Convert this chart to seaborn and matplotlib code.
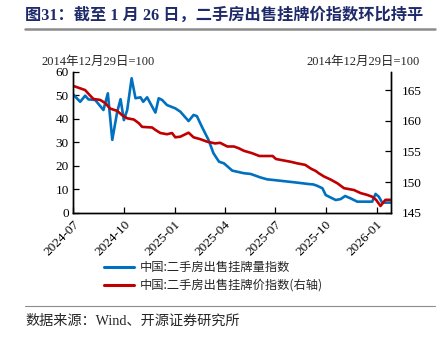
import numpy as np
import pandas as pd
import matplotlib
matplotlib.use("Agg")
import matplotlib.pyplot as plt
import matplotlib.dates as mdates
import seaborn as sns

# ---- data ----
vol_dates = ["2024-07-01", "2024-07-14", "2024-07-23", "2024-07-29", "2024-08-10", "2024-08-25",
             "2024-09-02", "2024-09-10", "2024-09-19", "2024-09-25", "2024-10-01", "2024-10-07",
             "2024-10-15", "2024-10-22", "2024-10-31", "2024-11-05", "2024-11-12", "2024-11-27",
             "2024-12-03", "2024-12-09", "2024-12-18", "2025-01-02", "2025-01-11", "2025-01-26",
             "2025-02-04", "2025-02-10", "2025-02-19", "2025-03-03", "2025-03-12", "2025-03-22",
             "2025-03-31", "2025-04-15", "2025-05-06", "2025-05-18", "2025-06-05", "2025-06-17",
             "2025-07-11", "2025-08-10", "2025-08-31", "2025-09-09", "2025-09-16", "2025-09-25",
             "2025-10-01", "2025-10-19", "2025-10-28", "2025-11-05", "2025-11-15", "2025-11-27",
             "2025-12-24", "2025-12-30", "2026-01-05", "2026-01-11", "2026-01-26"]
vol_values = [50.4, 47.2, 49.8, 48.2, 48.0, 43.7,
              50.8, 31.0, 43.0, 48.3, 39.4, 43.7,
              57.2, 48.7, 49.1, 47.2, 49.1, 42.6,
              48.7, 48.0, 45.8, 44.4, 43.0, 39.0,
              41.6, 41.1, 36.6, 31.0, 25.3, 21.7,
              21.0, 17.9, 16.8, 16.5, 15.0, 14.2,
              13.6, 12.8, 12.2, 12.0, 11.4, 10.4,
              7.5, 5.4, 5.8, 7.1, 6.1, 4.7,
              4.7, 8.0, 6.8, 4.3, 4.3]

price_dates = ["2024-07-01", "2024-07-23", "2024-07-31", "2024-08-07", "2024-08-19", "2024-08-28",
               "2024-09-06", "2024-09-19", "2024-09-28", "2024-10-07", "2024-10-19", "2024-10-28",
               "2024-11-03", "2024-11-21", "2024-11-27", "2024-12-06", "2024-12-18", "2024-12-27",
               "2025-01-02", "2025-01-11", "2025-01-26", "2025-02-04", "2025-02-16", "2025-02-28",
               "2025-03-15", "2025-03-24", "2025-04-06", "2025-04-18", "2025-04-27", "2025-05-06",
               "2025-05-21", "2025-06-03", "2025-06-27", "2025-07-03", "2025-07-18", "2025-07-30",
               "2025-08-10", "2025-08-25", "2025-09-04", "2025-09-13", "2025-09-19", "2025-09-28",
               "2025-10-10", "2025-10-22", "2025-11-03", "2025-11-21", "2025-12-03", "2025-12-15",
               "2025-12-24", "2025-12-31", "2026-01-08", "2026-01-17", "2026-01-26"]
price_values = [165.7, 165.0, 164.2, 163.55, 163.4, 162.9,
                162.0, 161.6, 160.9, 160.4, 160.2, 159.6,
                159.0, 158.9, 158.5, 158.0, 157.8, 158.0,
                157.3, 157.4, 158.05, 157.3, 157.0, 156.6,
                156.3, 156.4, 155.8, 155.8, 155.5, 155.1,
                154.7, 154.25, 154.25, 153.76, 153.5, 153.3,
                153.06, 152.8, 152.2, 151.8, 151.4, 150.9,
                150.4, 149.8, 149.0, 148.7, 148.2, 147.9,
                147.6, 147.1, 146.1, 147.1, 147.1]

left_ticks = [0, 10, 20, 30, 40, 50, 60]
right_ticks = [145, 150, 155, 160, 165]
x_ticks = ["2024-07", "2024-10", "2025-01", "2025-04", "2025-07", "2025-10", "2026-01"]

title = "图31：截至 1 月 26 日，二手房出售挂牌价指数环比持平"
unit_label = "2014年12月29日=100"
vol_label = "中国:二手房出售挂牌量指数"
price_label = "中国:二手房出售挂牌价指数(右轴)"
source = "数据来源：Wind、开源证券研究所"

# ---- style ----
sns.set_style("white")
plt.rcParams["font.family"] = ["Liberation Serif", "Noto Sans CJK SC", "DejaVu Sans"]
plt.rcParams["axes.unicode_minus"] = False

BLUE = "#0070C0"
RED = "#C00000"
CJK = ["Noto Sans CJK SC", "DejaVu Sans"]

df_v = pd.DataFrame({"date": pd.to_datetime(vol_dates), "value": vol_values})
df_p = pd.DataFrame({"date": pd.to_datetime(price_dates), "value": price_values})

fig = plt.figure(figsize=(4.47, 3.39), dpi=100)
ax = fig.add_axes([73 / 447, 1 - 212.7 / 339, (391 - 73) / 447, 141 / 339])
ax2 = ax.twinx()

sns.lineplot(data=df_v, x="date", y="value", ax=ax, color=BLUE, linewidth=1.9, legend=False)
sns.lineplot(data=df_p, x="date", y="value", ax=ax2, color=RED, linewidth=1.9, legend=False)

ax.set_xlim(pd.Timestamp("2024-07-01"), pd.Timestamp("2026-01-27"))
ax.set_ylim(0, 60)
ax2.set_ylim(145, 168)
ax.set_yticks(left_ticks)
ax2.set_yticks(right_ticks)
ax.set_xticks(pd.to_datetime([t + "-01" for t in x_ticks]))
ax.set_xticklabels(x_ticks, rotation=45, ha="right", rotation_mode="anchor")
ax.set_xlabel("")
ax.set_ylabel("")
ax2.set_ylabel("")

for a in (ax, ax2):
    a.spines["top"].set_visible(False)
    for s in ("left", "right", "bottom"):
        a.spines[s].set_color("black")
        a.spines[s].set_linewidth(1.0)
    a.tick_params(direction="in", length=4, width=0.9, colors="black", labelsize=9.5, pad=3)
ax.tick_params(axis="x", pad=4)
ax.tick_params(axis="y", left=True, right=False)
ax2.tick_params(axis="y", right=True, left=False, pad=8)
ax.tick_params(axis="x", bottom=True)

# unit labels
fig.text(98 / 447, 1 - 62 / 339, unit_label, ha="center", va="center", fontsize=9)
fig.text(363 / 447, 1 - 62 / 339, unit_label, ha="center", va="center", fontsize=9)

# title and rules
fig.text(25 / 447, 1 - 16 / 339, title, ha="left", va="center", fontsize=11.7,
         fontweight="bold", color="#1F2A6B",
         family=["Liberation Serif", "Noto Sans CJK SC", "DejaVu Sans"])
fig.add_artist(plt.Line2D([25 / 447, 435 / 447], [1 - 29 / 339, 1 - 29 / 339],
                          color="#8C8C8C", linewidth=1.8, transform=fig.transFigure))
fig.add_artist(plt.Line2D([25 / 447, 435 / 447], [1 - 306 / 339, 1 - 306 / 339],
                          color="#8C8C8C", linewidth=0.8, transform=fig.transFigure))
fig.text(25 / 447, 1 - 321 / 339, source, ha="left", va="center", fontsize=10.2,
         family=["Liberation Serif", "Noto Sans CJK SC", "DejaVu Sans"])

# legend
from matplotlib.lines import Line2D
handles = [Line2D([], [], color=BLUE, linewidth=2.2), Line2D([], [], color=RED, linewidth=2.2)]
fig.legend(handles, [vol_label, price_label], loc="upper left",
           bbox_to_anchor=(99 / 447, 1 - 256 / 339), frameon=False,
           prop={"family": CJK, "size": 8.8},
           handlelength=2.5, handletextpad=0.4, labelspacing=0.4, borderaxespad=0)

fig.savefig("out.png", dpi=100)
